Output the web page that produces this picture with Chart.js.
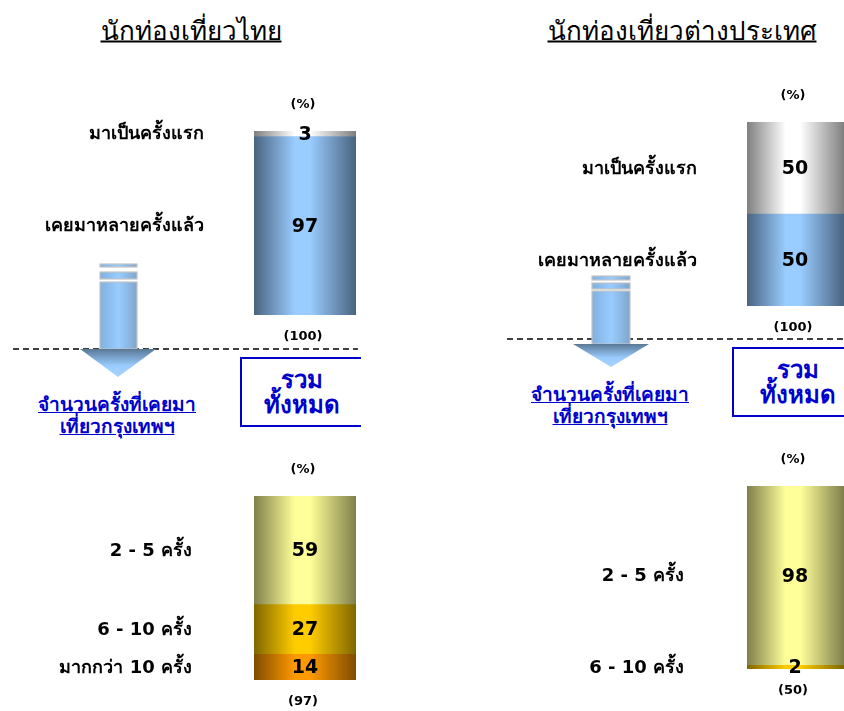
<!DOCTYPE html>
<html>
<head>
<meta charset="utf-8">
<script src="https://cdn.jsdelivr.net/npm/chart.js@4.4.0/dist/chart.umd.min.js"></script>
<style>
body { margin: 0; background: #fff; }
#page { position: relative; width: 844px; height: 711px; overflow: hidden; font-family: Tahoma, "DejaVu Sans", sans-serif; }
canvas { position: absolute; }
.title { position: absolute; font-family: "DejaVu Serif", "Liberation Serif", serif; font-size: 26px; text-decoration: underline; text-decoration-thickness: 2px; transform: translate(-50%, -50%); white-space: nowrap; color: #000; }
.link { position: absolute; color: #0000cc; font-weight: bold; font-size: 19px; text-decoration: underline; text-align: center; line-height: 22px; transform: translateX(-50%); white-space: nowrap; }
.box { position: absolute; border: 2px solid #0000cc; border-right: none; color: #0000cc; font-weight: bold; font-size: 24px; text-align: center; line-height: 25px; box-sizing: border-box; padding-top: 9px; }
svg { position: absolute; left: 0; top: 0; }
</style>
</head>
<body>
<div id="page">
  <div class="title" style="left:191px;top:30px">นักท่องเที่ยวไทย</div>
  <div class="title" style="left:682px;top:30px">นักท่องเที่ยวต่างประเทศ</div>

  <svg width="844" height="711">
    <defs>
      <linearGradient id="shaft" x1="0" x2="1" y1="0" y2="0">
        <stop offset="0" stop-color="#7fb0e0"/>
        <stop offset="0.5" stop-color="#99ccff"/>
        <stop offset="1" stop-color="#7fa6cc"/>
      </linearGradient>
      <linearGradient id="head" x1="0" x2="0" y1="0" y2="1">
        <stop offset="0" stop-color="#5a7896"/>
        <stop offset="0.6" stop-color="#99ccff"/>
        <stop offset="1" stop-color="#a8d4ff"/>
      </linearGradient>
    </defs>
    <line x1="13" y1="349" x2="358" y2="349" stroke="#000" stroke-width="1.5" stroke-dasharray="6,4"/>
    <line x1="507" y1="339" x2="844" y2="339" stroke="#000" stroke-width="1.5" stroke-dasharray="6,4"/>
    <g stroke="#c4c4c4" stroke-width="1.2">
      <rect x="100" y="264" width="37" height="3" fill="url(#shaft)"/>
      <rect x="100" y="272" width="37" height="7" fill="url(#shaft)"/>
      <rect x="100" y="282" width="37" height="67" fill="url(#shaft)"/>
      <polygon points="80,349 156,349 118,377" fill="url(#head)" stroke="none"/>
      <rect x="592" y="276" width="38" height="4" fill="url(#shaft)"/>
      <rect x="592" y="283" width="38" height="6" fill="url(#shaft)"/>
      <rect x="592" y="291" width="38" height="53" fill="url(#shaft)"/>
      <polygon points="573,344 649,344 611,367" fill="url(#head)" stroke="none"/>
    </g>
  </svg>

  <div class="link" style="left:117px;top:393px">จำนวนครั้งที่เคยมา<br>เที่ยวกรุงเทพฯ</div>
  <div class="link" style="left:610px;top:383px">จำนวนครั้งที่เคยมา<br>เที่ยวกรุงเทพฯ</div>
  <div class="box" style="left:240px;top:357px;width:121px;height:70px;">รวม<br>ทั้งหมด</div>
  <div class="box" style="left:732px;top:347px;width:130px;height:70px;">รวม<br>ทั้งหมด</div>

  <canvas id="tl" width="356" height="280" style="left:0;top:80px"></canvas>
  <canvas id="tr" width="422" height="280" style="left:422px;top:70px"></canvas>
  <canvas id="bl" width="356" height="261" style="left:0;top:450px"></canvas>
  <canvas id="br" width="422" height="271" style="left:422px;top:440px"></canvas>
</div>

<script>
// Data (top segment first)
var visitLabels = ['มาเป็นครั้งแรก', 'เคยมาหลายครั้งแล้ว'];
var thaiVisit = [3, 97];
var foreignVisit = [50, 50];

var countLabels = ['2 - 5 ครั้ง', '6 - 10 ครั้ง', 'มากกว่า 10 ครั้ง'];
var thaiCount = [59, 27, 14];
var foreignCount = [98, 2];

var thaiBase = ['(100)', '(97)'];
var foreignBase = ['(100)', '(50)'];

// Colours: [dark edge, light centre]
var visitColors = [['#7f7f7f', '#ffffff'], ['#4a6380', '#99ccff']];
var countColors = [['#7f7f4c', '#ffff99'], ['#7f6600', '#ffcc00'], ['#7f4c00', '#ff9900']];

var catFont = 'bold 18px Tahoma, "DejaVu Sans", sans-serif';
var valueFont = 'bold 19px Tahoma, "DejaVu Sans", sans-serif';
var smallFont = 'bold 13px Tahoma, "DejaVu Sans", sans-serif';

function cylinder(dark, light) {
    return function(c) {
        var ca = c.chart.chartArea;
        if (!ca) return light;
        var g = c.chart.ctx.createLinearGradient(ca.left, 0, ca.right, 0);
        g.addColorStop(0, dark);
        g.addColorStop(0.4, light);
        g.addColorStop(0.55, light);
        g.addColorStop(1, dark);
        return g;
    };
}

/* Labels: values inside, categories to the left, (%) above, base below */
var barLabels = {
    id: 'barLabels',
    afterDatasetsDraw: function(chart, args, opts) {
        var ctx = chart.ctx;
        var ca = chart.chartArea;
        var cx = (ca.left + ca.right) / 2;
        if (opts.clip) cx = ca.left + 48;
        ctx.save();
        ctx.fillStyle = '#000';
        ctx.textBaseline = 'middle';
        chart.data.datasets.forEach(function(ds, i) {
            var el = chart.getDatasetMeta(i).data[0];
            var y = (el.y + el.base) / 2;
            ctx.font = valueFont;
            ctx.textAlign = 'center';
            ctx.fillText(ds.data[0], cx, y + 1);
            ctx.font = catFont;
            ctx.textAlign = 'right';
            ctx.fillText(ds.label, ca.left - opts.gap, y + 1);
        });
        ctx.font = smallFont;
        ctx.textAlign = 'center';
        ctx.fillText('(%)', cx - 2, ca.top - 26);
        ctx.fillText(opts.base, cx - 2, ca.bottom + 22);
        ctx.restore();
    }
};

function makeChart(id, labels, values, colors, base, pad, gap, clip) {
    var datasets = labels.slice(0, values.length).map(function(l, i) {
        return {
            label: l,
            data: [values[i]],
            backgroundColor: cylinder(colors[i][0], colors[i][1]),
            borderWidth: 0,
            categoryPercentage: 1,
            barPercentage: 1
        };
    }).reverse();

    return new Chart(document.getElementById(id), {
        type: 'bar',
        data: { labels: [''], datasets: datasets },
        options: {
            responsive: false,
            animation: false,
            layout: { padding: pad },
            plugins: {
                legend: { display: false },
                tooltip: { enabled: false },
                barLabels: { gap: gap, base: base, clip: clip }
            },
            scales: {
                x: { stacked: true, display: false },
                y: { stacked: true, display: false, min: 0, max: 100 }
            }
        },
        plugins: [barLabels]
    });
}

makeChart('tl', visitLabels, thaiVisit, visitColors, thaiBase[0], { left: 254, right: 0, top: 51, bottom: 45 }, 50, false);
makeChart('tr', visitLabels, foreignVisit, visitColors, foreignBase[0], { left: 325, right: 0, top: 52, bottom: 44 }, 50, true);
makeChart('bl', countLabels, thaiCount, countColors, thaiBase[1], { left: 254, right: 0, top: 46, bottom: 31 }, 62, false);
makeChart('br', countLabels, foreignCount, countColors, foreignBase[1], { left: 325, right: 0, top: 46, bottom: 42 }, 63, true);
</script>
</body>
</html>
